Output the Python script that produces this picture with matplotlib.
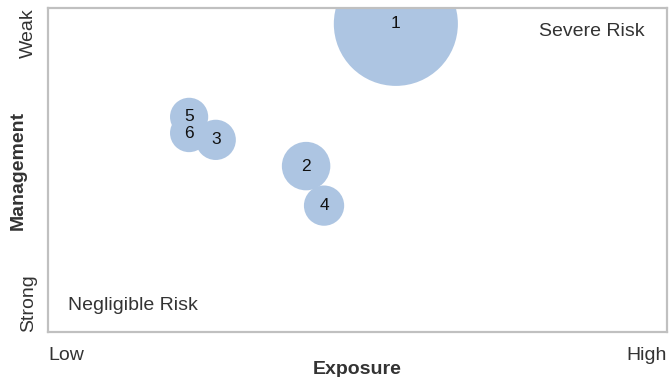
import matplotlib.pyplot as plt

plt.rcParams["font.family"] = ["Liberation Sans", "DejaVu Sans"]

# bubble data (0-10 scale on both axes)
labels = ["1", "2", "3", "4", "5", "6"]
exposure = [5.62, 4.17, 2.71, 4.46, 2.28, 2.28]
management = [9.51, 5.12, 5.93, 3.90, 6.64, 6.14]
impact = [38.0, 5.8, 4.0, 4.0, 3.6, 3.6]

x_ticks = ["Low", "High"]
y_ticks = ["Strong", "Weak"]

fig = plt.figure(figsize=(6.72, 3.77), dpi=100)
ax = fig.add_axes([0.0714, 0.1194, 0.9211, 0.8594])

ax.scatter(exposure, management, s=[v * 210 for v in impact],
           color="#adc5e2", edgecolors="none", zorder=2)
for lab, xv, yv in zip(labels, exposure, management):
    ax.text(xv, yv, lab, ha="center", va="center", fontsize=12.5,
            color="#111111", zorder=3)

ax.set_xlim(0, 10)
ax.set_ylim(0, 10)

ax.text(0.964, 0.926, "Severe Risk", transform=ax.transAxes, ha="right",
        va="center", fontsize=14, color="#333333")
ax.text(0.033, 0.083, "Negligible Risk", transform=ax.transAxes, ha="left",
        va="center", fontsize=14, color="#333333")

ax.set_xticks([0, 10])
ax.set_xticklabels(x_ticks, fontsize=14, color="#333333")
ax.tick_params(axis="x", length=0, pad=11)
xl = ax.get_xticklabels()
xl[0].set_ha("left")
xl[1].set_ha("right")

ax.set_yticks([0, 10])
ax.set_yticklabels(y_ticks, fontsize=14, color="#333333", rotation=90)
ax.tick_params(axis="y", length=0, pad=8)
yl = ax.get_yticklabels()
yl[0].set_va("bottom")
yl[1].set_va("top")

ax.set_xlabel("Exposure", fontsize=14, fontweight="bold", color="#333333")
ax.xaxis.set_label_coords(0.5, -0.09)
ax.set_ylabel("Management", fontsize=14, fontweight="bold", color="#333333")
ax.yaxis.set_label_coords(-0.034, 0.5)

for sp in ax.spines.values():
    sp.set_color("#c0c0c0")
    sp.set_linewidth(1.6)

fig.savefig("out.png", dpi=100)
